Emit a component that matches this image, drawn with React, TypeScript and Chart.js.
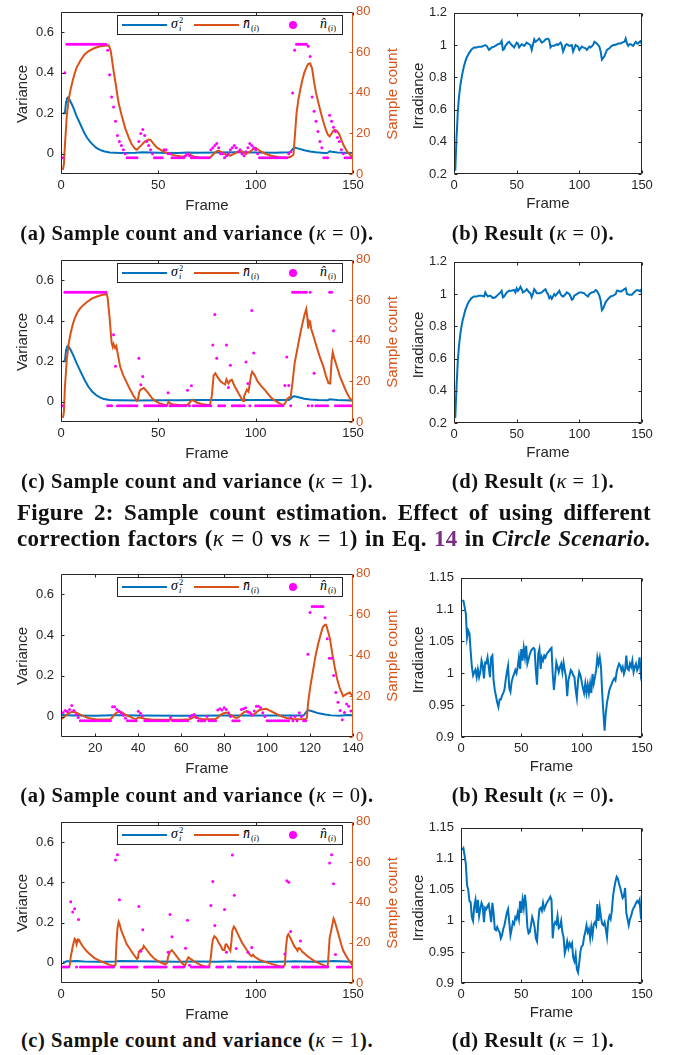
import React, { useEffect, useRef } from "react";
import { Chart, registerables } from "chart.js";
Chart.register(...registerables);

const BLUE = "#0072BD";
const ORANGE = "#D95319";
const MAGENTA = "#FF00FF";
const AXIS = "#262626";

// ---------- tick values ----------
const xTicksMain = [0, 50, 100, 150];
const xTicksRow3 = [20, 40, 60, 80, 100, 120, 140];
const varTicks = [0, 0.2, 0.4, 0.6];
const countTicks = [0, 20, 40, 60, 80];
const irrTicksA = [0.2, 0.4, 0.6, 0.8, 1, 1.2];
const irrTicksB = [0.9, 0.95, 1, 1.05, 1.1, 1.15];

// ---------- Figure 2 (a): kappa = 0, circle ----------
const dotsA1 = [
  8, 50, 64, 64, 64, 64, 64, 64, 64, 64,
  64, 64, 64, 64, 64, 64, 64, 64, 64, 64,
  64, 64, 64, 61, 49, 38, 33, 26, 19, 16,
  14, 12, 10, 8, 8, 8, 8, 8, 8, 16,
  20, 22, 19, 16, 14, 12, 10, 8, 8, 8,
  8, 8, 12, 12, 10, 10, 8, 8, 8, 8,
  8, 8, 8, 9, 10, 9, 8, 8, 8, 8,
  8, 8, 8, 8, 8, 8, 12, 13, 14, 15,
  13, 10, 10, 8, 9, 10, 12, 13, 14, 13,
  11, 12, 10, 9, 11, 13, 15, 14, 13, 12,
  10, 8, 8, 8, 8, 8, 8, 8, 8, 8,
  8, 8, 8, 8, 8, 8, 10, 11, 40, 61,
  64, 64, 64, 64, 64, 64, 63, 58, 38, 31,
  26, 21, 16, 13, 8, 8, 8, 29, 26, 23,
  21, 18, 16, 12, 10, 8, 8, 8, 8, 8,
];
const meanA1: [number, number][] = [
  [1, 2], [1.5, 5], [2, 14], [3, 29], [4, 37], [5, 42], [6, 46], [7, 49.5], [8, 52.5], [10, 56], [12, 58.8],
  [14, 60.5], [17, 62], [20, 63], [24.5, 63.5], [25.5, 61], [27, 51], [28, 45], [29.6, 35], [31, 29.5],
  [33, 22.5], [35, 17.5], [36.4, 14.5], [38, 12.5], [39, 12], [40, 13], [41.6, 14.5], [43, 16], [45, 17],
  [46, 16.8], [47.5, 15], [49.3, 13], [51, 12], [52.7, 11], [55, 10.2], [57.8, 9.3], [61, 8.8], [63.8, 8.6],
  [65, 10], [66.5, 9.5], [68, 8.6], [71.5, 8], [76.6, 8], [78, 9.5], [80, 11.3], [81, 11.5], [83, 10.5],
  [85, 9.5], [87, 9], [89, 10], [91, 11], [93, 11.2], [94, 10.5], [95, 9.8], [97, 11], [99, 12.5], [100, 13],
  [102, 11.5], [105, 10], [108, 9], [112, 8.3], [116, 8], [118, 8.5], [119.4, 9.5], [120, 17], [121, 30],
  [122, 37], [123, 42], [124, 46.5], [125, 50], [126, 52.5], [127, 54.3], [128, 54.5], [129, 52], [130, 45.5],
  [131, 40], [132, 36], [133, 32], [134, 28.5], [135, 25], [136, 22], [137, 19.5], [138, 18.5], [139, 20],
  [140, 21.5], [141, 21.7], [142, 21], [143, 19.5], [144, 17], [145, 14.5], [147, 11], [150, 8],
];
const varA1: [number, number][] = [
  [1, 0.2], [2, 0.2], [2.6, 0.255], [3, 0.272], [3.6, 0.278], [4.5, 0.265], [5.5, 0.245], [6.5, 0.224],
  [8, 0.185], [10, 0.144], [12, 0.102], [13.3, 0.08], [15, 0.058], [16.8, 0.04], [18, 0.03], [20, 0.019],
  [22, 0.012], [25, 0.006], [30, 0.004], [38, 0.005], [42, 0.007], [46, 0.006], [50, 0.005], [60, 0.004],
  [65, 0.006], [70, 0.005], [80, 0.006], [90, 0.007], [100, 0.006], [110, 0.005], [117, 0.007], [118, 0.009],
  [119, 0.024], [120, 0.03], [122, 0.025], [125, 0.017], [128, 0.011], [131, 0.007], [135, 0.004],
  [137, 0.005], [138, 0.012], [139, 0.01], [142, 0.006], [150, 0.004],
];
const irrB1: [number, number][] = [
  [1, 0.22], [2, 0.42], [3, 0.58], [4, 0.68], [5, 0.745], [6, 0.795], [7, 0.835], [8, 0.87], [9, 0.897],
  [10, 0.92], [11, 0.935], [12, 0.95], [14, 0.973], [16, 0.985], [18, 0.985], [20, 0.99], [22, 0.99],
  [25, 1.0], [26, 0.995], [28, 0.97], [30, 0.985], [32, 0.99], [34, 1.0], [35, 1.005], [37, 1.01],
  [38, 1.025], [39, 0.97], [40, 0.975], [41, 0.995], [43, 1.015], [44, 1.02], [46, 1.0], [48, 0.985],
  [50, 1.015], [51, 1.01], [52, 0.985], [54, 1.005], [56, 0.995], [58, 1.015], [60, 1.005], [61, 1.0],
  [62, 0.97], [64, 1.035], [65, 1.02], [66, 1.025], [68, 1.04], [70, 1.015], [72, 1.025], [73, 1.035],
  [75, 1.04], [76, 1.03], [77, 0.985], [78, 0.995], [80, 0.995], [82, 1.005], [83, 1.0], [85, 1.015],
  [86, 1.0], [87, 0.96], [88, 0.98], [89, 1.0], [90, 1.005], [92, 0.995], [94, 1.0], [95, 0.96],
  [96, 0.98], [97, 1.0], [99, 0.99], [100, 0.97], [102, 0.99], [103, 0.985], [105, 0.98], [106, 0.97],
  [108, 0.99], [109, 0.985], [111, 1.0], [112, 1.02], [113, 1.015], [114, 1.01], [116, 0.99], [117, 0.96],
  [118, 0.91], [119, 0.92], [120, 0.93], [122, 0.97], [124, 0.98], [125, 0.99], [127, 1.0], [128, 1.0],
  [130, 1.005], [131, 1.01], [133, 1.01], [134, 1.015], [136, 1.02], [137, 1.04], [138, 1.01],
  [139, 0.995], [140, 1.005], [141, 1.005], [142, 1.0], [143, 0.995], [144, 1.01], [145, 1.02],
  [146, 1.01], [147, 1.01], [148, 1.02], [149, 1.025], [150, 1.0],
];

// ---------- Figure 2 (c): kappa = 1, circle ----------
const dotsC1 = [
  8, 64, 64, 64, 64, 64, 64, 64, 64, 64,
  64, 64, 64, 64, 64, 64, 64, 64, 64, 64,
  64, 64, 64, 8, 8, 8, 43, 27.5, 8, 8,
  8, 8, 8, 8, 8, 8, 8, 8, 8, 31.5,
  18.4, 22.4, 8, 8, 8, 8, 8, 8, 8, 8,
  8, 8, 8, 8, 14.4, 8, 8, 8, 8, 8,
  8, 8, 8, 8, 15.7, 8, 17.9, 8, 8, 8,
  8, 8, 8, 8, 8, 8, 8, 38, 53, 31.5,
  8, 8, 8, 8, 38, 17, 28, 8, 8, 8,
  8, 8, 8, 8, 29.6, 19, 8, 55, 34, 8,
  8, 8, 8, 8, 8, 8, 8, 8, 8, 8,
  8, 8, 8, 8, 18, 32, 18, 8, 64, 64,
  64, 64, 64, 64, 64, 64, 8, 64, 8, 24,
  8, 8, 8, 8, 8, 8, 8, 64, 64, 45,
  8, 8, 8, 8, 8, 8, 8, 8, 8, 8,
];
const meanC1: [number, number][] = [
  [1, 2], [1.5, 5], [2, 17], [3, 31], [4, 39], [5, 44], [6, 48], [7, 51], [8.2, 53.6], [10, 56.3],
  [13.3, 59.2], [16, 61], [20, 62.4], [23.5, 63.2], [24, 61], [25, 51], [26, 39], [26.6, 37], [27, 38.5],
  [27.8, 36.5], [28.4, 37.5], [30.4, 27.2], [32, 23], [33.9, 19.2], [35.5, 16], [37.3, 12.8], [39, 10.4],
  [39.5, 11], [40.3, 15.2], [41, 16], [42.5, 16.8], [43.5, 15.8], [45, 14], [46.5, 12], [48.5, 10.3],
  [50.5, 9.3], [53, 8.5], [54.5, 8.3], [55.2, 9.9], [56.5, 9], [58, 8.6], [62, 8.3], [65, 8.5], [66.5, 10],
  [67.3, 11], [68.5, 10.3], [70, 9.5], [73, 8.7], [76.5, 8.3], [77.5, 13], [78.4, 23], [79.3, 24],
  [80.5, 22], [82, 20], [83.5, 19], [84.3, 18.5], [85, 21], [86, 19], [87, 20.5], [87.8, 20.8], [89, 18],
  [91, 14.5], [92.5, 12], [93.5, 10.4], [94, 12.5], [95.5, 16], [96.3, 15], [97, 19], [97.6, 23],
  [98.2, 24.8], [99.5, 23], [101, 20], [103, 17.6], [105, 15.5], [106.5, 13.6], [108, 12], [110, 10.5],
  [112, 9.3], [114, 8.3], [115, 9], [116, 11.2], [117, 12], [118, 12.5], [119, 20], [120, 29], [121, 34],
  [122, 39], [123, 44], [124, 48.5], [125, 52.5], [126, 55.7], [126.5, 52], [127, 46], [127.5, 50],
  [128, 49.6], [128.5, 46], [129.5, 43], [131.4, 36.8], [133, 32], [134.8, 27.2], [136, 23], [137.4, 19.2],
  [138.3, 19], [139, 30], [139.6, 34.4], [140.5, 31], [142, 26.5], [143.3, 22.4], [145, 18.5], [146.8, 14.4],
  [148.5, 11.5], [150, 10],
];
const varC1: [number, number][] = [
  [1, 0.2], [2, 0.2], [2.6, 0.255], [3, 0.27], [3.6, 0.276], [5, 0.255], [6.5, 0.225], [8, 0.19],
  [10, 0.15], [12, 0.11], [14, 0.075], [16, 0.05], [18, 0.033], [20, 0.021], [22, 0.013], [25, 0.008],
  [30, 0.007], [40, 0.006], [50, 0.007], [60, 0.007], [70, 0.008], [80, 0.008], [90, 0.009], [100, 0.008],
  [110, 0.008], [117, 0.008], [118, 0.015], [119, 0.025], [120, 0.027], [122, 0.022], [125, 0.015],
  [128, 0.011], [132, 0.008], [137, 0.007], [138, 0.012], [139, 0.011], [142, 0.008], [150, 0.006],
];
const irrD1: [number, number][] = [
  [1, 0.23], [2, 0.42], [3, 0.58], [4, 0.68], [5, 0.75], [6, 0.8], [7, 0.84], [8, 0.87], [9, 0.9],
  [10, 0.92], [11, 0.94], [12, 0.955], [14, 0.975], [16, 0.985], [18, 0.985], [20, 0.99], [22, 0.99],
  [24, 0.985], [25, 1.01], [26, 0.995], [27, 0.985], [29, 0.99], [31, 0.975], [33, 0.98], [35, 0.995],
  [37, 1.01], [38, 1.02], [39, 0.98], [40, 0.985], [42, 1.01], [44, 1.02], [46, 1.02], [48, 1.025],
  [49, 1.01], [50, 1.035], [51, 1.02], [52, 1.03], [53, 1.045], [54, 1.03], [55, 1.01], [57, 1.02],
  [58, 1.03], [60, 1.01], [61, 1.005], [62, 0.98], [63, 1.0], [64, 1.03], [65, 1.02], [66, 1.005],
  [68, 1.005], [70, 1.01], [72, 1.025], [73, 1.03], [74, 1.01], [75, 1.0], [76, 0.975], [77, 0.985],
  [78, 0.97], [80, 1.0], [81, 0.99], [82, 1.0], [84, 1.02], [85, 1.0], [86, 0.99], [87, 0.985],
  [88, 0.99], [90, 1.01], [92, 1.0], [93, 0.985], [94, 0.965], [95, 0.97], [96, 0.99], [98, 1.0],
  [100, 1.01], [102, 1.01], [104, 1.005], [105, 0.995], [107, 0.985], [108, 1.0], [110, 1.01],
  [112, 1.015], [113, 1.025], [114, 1.02], [116, 0.99], [117, 0.96], [118, 0.9], [119, 0.91], [121, 0.95],
  [123, 0.97], [125, 0.985], [127, 0.99], [129, 1.0], [130, 1.02], [131, 1.02], [133, 1.015], [134, 1.02],
  [136, 1.03], [137, 1.035], [138, 1.0], [140, 0.995], [142, 0.995], [143, 1.005], [145, 1.02],
  [146, 1.025], [148, 1.02], [149, 1.025], [150, 1.0],
];

// ---------- Figure 3 (a): kappa = 0, second scenario ----------
const dotsA2Start = 5;
const dotsA2 = [
  12, 13, 12.5, 13.5, 15.5, 13, 11, 9.5, 8, 8,
  8, 8, 8, 8, 8, 8, 8, 8, 8, 8,
  8, 8, 8, 14.8, 14.8, 13.5, 12.7, 11.9, 10.7, 9.2,
  8, 8, 8, 8, 8, 12.6, 11.6, 10.3, 8, 8,
  8, 8, 8, 8, 8, 8, 8, 8, 8, 8,
  9.5, 8, 8, 8, 8, 8, 8, 8, 8, 9.9,
  10.7, 11, 9.5, 8, 8, 8, 8, 10, 8, 8,
  8, 8, 13.2, 13.8, 13.2, 14.3, 13.5, 11.9, 10, 8,
  8, 8, 8, 13.5, 13.8, 14.3, 12.2, 11.9, 10.7, 12.7,
  15.1, 15.1, 14.3, 11.9, 10, 8, 8, 8, 8, 8,
  8, 8, 8, 8, 8, 8, 9.5, 8, 10, 8,
  11.9, 10, 8, 8, 40.6, 61, 64, 64, 64, 64,
  64, 64, 58.4, 48.2, 38.6, 38.6, 30.2, 21.8, 17, 13,
  8.4, 12, 16.2, 15.1, 12.7, 18.6,
];
const meanA2: [number, number][] = [
  [4, 8.7], [5, 9.5], [6, 10.3], [7, 11.2], [8, 11.9], [9, 12.3], [10, 12.4], [11, 12], [13, 11], [15, 10],
  [17, 9.2], [20, 8.7], [27, 8.6], [28, 9.8], [29, 11.2], [30, 12], [31, 12.5], [32, 12.3], [34, 11],
  [36, 10], [38, 9], [39, 8.8], [40, 9.5], [41, 9.4], [43, 8.9], [46, 8.6], [50, 8.5], [55, 8.5], [60, 8.5],
  [64, 8.7], [65, 9.3], [66.5, 10], [68, 9.2], [70, 8.7], [76, 8.8], [77, 9.5], [78, 10.6], [79.5, 11.5],
  [81, 12], [82, 11.6], [83, 10.8], [85, 9.5], [86, 9.3], [87, 10], [88, 11], [89, 12], [90.5, 12.7],
  [91.5, 12.3], [93, 11], [93.6, 10.8], [95, 12], [96, 13], [97, 13.4], [98, 13.6], [99.7, 13.8], [101, 13],
  [103, 12], [105, 11], [107, 10], [109, 9.3], [112, 8.8], [118, 8.7], [118.5, 9.5], [119.1, 16.7],
  [120, 24], [121.4, 32.6], [122.5, 39.5], [123.7, 45.3], [125, 50.5], [126, 54], [127, 55], [127.5, 55],
  [129.2, 48.5], [130.5, 40], [131.5, 34.2], [132.7, 28], [133.8, 24], [135.4, 20], [136.5, 20.8],
  [138.4, 21.8], [139.5, 20.5], [140, 19.9],
];
const varA2: [number, number][] = [
  [4, 0.008], [10, 0.006], [20, 0.004], [28, 0.007], [32, 0.007], [40, 0.005], [60, 0.004], [80, 0.006],
  [100, 0.005], [117, 0.005], [118, 0.02], [119, 0.032], [121, 0.026], [124, 0.016], [127, 0.01],
  [130, 0.006], [134, 0.004], [137, 0.008], [140, 0.006],
];
const irrB2 = [
  1.114, 1.114, 1.104, 1.094, 1.056, 1.067, 1.063, 1.035, 1.01, 0.997,
  1.002, 1.006, 0.994, 1.006, 0.994, 1.002, 1.02, 1.012, 0.992, 1.017,
  1.016, 1.025, 1.01, 0.994, 1.025, 1.028, 0.989, 0.974, 0.964, 0.954,
  0.947, 0.959, 0.959, 0.965, 0.969, 0.974, 0.989, 1.002, 1.012, 0.977,
  0.971, 0.987, 0.994, 0.999, 1.005, 1.0, 1.01, 1.025, 1.007, 1.038,
  1.02, 1.04, 1.025, 1.043, 1.015, 1.022, 1.03, 1.035, 1.038, 1.04,
  1.038, 1.005, 0.982, 1.03, 1.038, 1.007, 1.025, 1.02, 1.028, 1.025,
  1.03, 1.033, 1.035, 1.038, 1.04, 0.999, 0.974, 0.994, 1.017, 1.01,
  1.002, 1.01, 1.015, 1.002, 1.017, 1.005, 0.994, 0.964, 0.989, 0.997,
  1.005, 1.002, 0.997, 0.994, 0.974, 0.961, 0.989, 1.002, 0.997, 0.987,
  0.977, 0.969, 0.984, 0.969, 0.982, 0.969, 0.984, 0.969, 0.999, 0.984,
  0.994, 1.005, 1.025, 1.015, 1.025, 1.01, 0.969, 0.938, 0.91, 0.938,
  0.954, 0.964, 0.974, 0.979, 0.984, 0.989, 0.992, 0.989, 1.002, 1.01,
  1.015, 1.012, 1.005, 1.01, 0.999, 1.005, 1.028, 1.007, 1.005, 1.015,
  1.01, 1.02, 1.002, 1.01, 1.015, 1.005, 1.01, 1.025, 0.999, 1.01,
];

// ---------- Figure 3 (c): kappa = 1, second scenario ----------
const dotsC2 = [
  8, 8, 8, 8, 40.3, 35.2, 36.8, 8, 31.5, 8,
  8, 8, 8, 8, 8, 8, 8, 8, 8, 8,
  8, 8, 8, 8, 8, 8, 8, 61, 63.7, 41.3,
  8, 8, 8, 8, 8, 8, 8, 8, 8, 38,
  15.7, 26.4, 8, 8, 8, 8, 8, 8, 8, 8,
  8, 8, 8, 8, 15.2, 34, 22.9, 8, 8, 8,
  8, 8, 8, 17.3, 31.2, 8.8, 8, 8, 8, 8,
  8, 8, 8, 8, 8, 8, 38.4, 50.4, 28.5, 8,
  8, 8, 8, 36.5, 15.2, 8, 8, 63.5, 43.5, 17.1,
  8, 8, 8, 8, 8, 15.2, 8, 17.6, 8, 8,
  8, 8, 8, 8, 8, 8, 8, 8, 8, 8,
  8, 8, 8, 8, 14.4, 50.7, 50, 25.6, 8, 8,
  8, 8, 20.8, 8, 8, 8, 8, 8, 8, 8,
  8, 8, 8, 8, 8, 8, 8, 59.5, 63.7, 49.3,
  14.1, 8, 8, 8, 8, 8, 8, 8, 8, 8,
];
const meanC2: [number, number][] = [
  [1, 8], [4, 8], [4.5, 9], [5, 13], [6, 18], [7, 22], [7.5, 21.5], [8, 19.2], [8.7, 21.6], [9.2, 21.5],
  [10, 20], [12, 17], [14, 15], [17, 12.5], [20, 11], [23, 9.8], [25, 9], [27, 8.5], [28, 9], [28.5, 20],
  [29, 27], [29.6, 30.4], [30, 29.5], [31, 26], [33.8, 19.2], [35, 17.5], [37, 14.5], [39, 12], [39.5, 12.3],
  [40, 15.5], [41, 16.5], [42, 17], [42.5, 18.4], [44, 16.5], [46, 14], [48, 12], [51, 10.3], [53.5, 9.3],
  [54.5, 10], [55, 13], [56, 15.5], [57, 16.3], [58, 15], [60, 12.5], [62, 10], [63.7, 8.5], [64.5, 11],
  [65.4, 12.8], [66.5, 12], [68, 11], [70, 9.8], [72, 8.8], [74.8, 8], [76.2, 8.5], [77, 13], [77.5, 18],
  [78, 21.6], [78.8, 23.2], [80, 22], [81, 20], [82, 18.5], [83, 16.5], [84, 16.3], [84.5, 19], [85, 19.2],
  [86, 17.6], [87, 16], [87.5, 20], [88, 26], [88.8, 28], [89.5, 27], [91, 24], [93, 20], [95, 17],
  [97, 14], [98, 13.3], [98.7, 14], [99.5, 13], [102, 11.5], [105, 10.5], [108, 9.5], [111, 8.7], [114, 8],
  [115, 9], [115.5, 17], [116.2, 23.2], [116.8, 24.3], [117.5, 23], [119, 20], [120, 18], [121, 16.8],
  [121.5, 16], [122, 17.3], [122.7, 17.2], [124, 15.5], [127, 13], [130, 11], [133, 9.6], [136.3, 8.2],
  [137, 8.5], [137.5, 15], [138, 22.4], [139, 27], [140, 32], [140.5, 31], [142, 26], [144, 19],
  [145, 16], [147, 12.5], [150, 8.5],
];
const varC2: [number, number][] = [
  [1, 0.003], [2, 0.004], [3, 0.008], [5, 0.008], [8, 0.009], [12, 0.007], [20, 0.006], [28, 0.007],
  [30, 0.009], [40, 0.008], [50, 0.007], [60, 0.006], [70, 0.007], [80, 0.006], [88, 0.008], [90, 0.007],
  [100, 0.006], [110, 0.006], [117, 0.007], [120, 0.008], [130, 0.006], [138, 0.008], [140, 0.009],
  [150, 0.005],
];
const irrD2 = [
  1.114, 1.117, 1.105, 1.092, 1.058, 1.05, 1.032, 1.03, 1.006, 1.0,
  1.024, 1.034, 1.013, 1.034, 1.008, 1.019, 1.029, 1.024, 0.998, 1.021,
  1.019, 1.024, 1.027, 1.013, 0.998, 1.029, 1.013, 0.987, 0.985, 0.99,
  0.985, 0.982, 0.972, 0.977, 0.987, 0.993, 1.003, 1.013, 1.019, 0.998,
  0.977, 0.987, 0.998, 0.995, 1.006, 1.003, 1.013, 1.003, 1.032, 1.013,
  1.034, 1.021, 1.042, 1.024, 0.99, 0.98, 0.982, 0.993, 1.006, 1.0,
  0.99, 0.972, 0.967, 0.998, 1.019, 1.021, 1.016, 1.029, 1.019, 1.024,
  1.029, 1.032, 1.035, 1.039, 1.034, 0.972, 0.993, 0.998, 0.995, 1.008,
  0.988, 0.99, 1.0, 0.982, 0.974, 0.948, 0.956, 0.967, 0.956, 0.964,
  0.959, 0.964, 0.941, 0.935, 0.946, 0.922, 0.917, 0.933, 0.951, 0.959,
  0.961, 0.974, 0.982, 0.993, 0.982, 0.987, 0.972, 0.99, 0.977, 0.995,
  0.998, 0.993, 1.027, 1.0, 1.021, 1.006, 0.995, 0.993, 0.998, 0.987,
  0.974, 1.0, 1.008, 1.003, 1.016, 1.04, 1.053, 1.063, 1.071, 1.068,
  1.06, 1.053, 1.045, 1.037, 1.04, 1.053, 1.013, 1.003, 0.993, 1.003,
  1.008, 1.016, 1.021, 1.024, 1.029, 1.032, 1.029, 1.034, 1.008, 1.013,
];

// ---------- helpers ----------
const TICK_FONT = { family: "'Liberation Sans', Arial, sans-serif", size: 13 };
const fmt = (v: any) => String(+Number(v).toFixed(3));
const PAD_T = 10;
const PAD_B = 26;

type Rect = { x: number; y: number; w: number; h: number };

const boxPlugin = {
  id: "matlabBox",
  afterDatasetsDraw(chart: any, _args: any, opts: any) {
    const { ctx, chartArea } = chart;
    const { left, right, top, bottom } = chartArea;
    const TL = 3;
    const p = (v: number) => Math.round(v) + 0.5;
    const L = p(left), R = p(right - 1), T = p(top), B = p(bottom - 1);
    const seg = (x1: number, y1: number, x2: number, y2: number, c: string) => {
      ctx.strokeStyle = c;
      ctx.beginPath();
      ctx.moveTo(x1, y1);
      ctx.lineTo(x2, y2);
      ctx.stroke();
    };
    ctx.save();
    ctx.lineWidth = 1;
    const xs = chart.scales.x;
    xs.ticks.forEach((t: any) => {
      const x = p(xs.getPixelForValue(t.value));
      seg(x, B, x, B - TL, AXIS);
      seg(x, T, x, T + TL, AXIS);
    });
    const ys = chart.scales.y;
    ys.ticks.forEach((t: any) => {
      const y = p(ys.getPixelForValue(t.value));
      seg(L, y, L + TL, y, AXIS);
      if (!opts.dual) seg(R, y, R - TL, y, AXIS);
    });
    if (opts.dual) {
      const y2 = chart.scales.y2;
      y2.ticks.forEach((t: any) => {
        const y = p(y2.getPixelForValue(t.value));
        seg(R, y, R - TL, y, ORANGE);
      });
    }
    seg(L, T, R, T, AXIS);
    seg(L, B, R, B, AXIS);
    seg(L, T, L, B, AXIS);
    seg(R, T, R, B, opts.dual ? ORANGE : AXIS);
    ctx.restore();
  },
};

function linAxis(min: number, max: number, ticks: number[], fit: (s: any) => void, color: string, padding: number, position?: string) {
  return {
    type: "linear",
    position,
    min,
    max,
    afterBuildTicks: (a: any) => {
      a.ticks = ticks.map((v) => ({ value: v }));
    },
    afterFit: fit,
    grid: { display: false, drawTicks: false },
    border: { display: false },
    ticks: { font: TICK_FONT, color, padding, autoSkip: false, maxRotation: 0, minRotation: 0, callback: fmt },
  };
}

function dualConfig(p: {
  padL: number; padR: number; xMin: number; xMax: number; xTicks: number[];
  variance: [number, number][]; mean: [number, number][]; dots: number[]; dotStart: number;
}) {
  return {
    type: "line",
    data: {
      datasets: [
        {
          label: "n_hat",
          data: p.dots.map((v, i) => ({ x: i + p.dotStart, y: v })),
          yAxisID: "y2",
          showLine: false,
          pointRadius: 1.5,
          pointBackgroundColor: MAGENTA,
          pointBorderWidth: 0,
          order: 0,
        },
        {
          label: "n_bar",
          data: p.mean.map(([x, y]) => ({ x, y })),
          yAxisID: "y2",
          borderColor: ORANGE,
          borderWidth: 2,
          pointRadius: 0,
          order: 1,
        },
        {
          label: "sigma",
          data: p.variance.map(([x, y]) => ({ x, y })),
          yAxisID: "y",
          borderColor: BLUE,
          borderWidth: 2,
          pointRadius: 0,
          order: 2,
        },
      ],
    },
    options: {
      responsive: false,
      animation: false,
      devicePixelRatio: 1,
      events: [],
      layout: { padding: { top: PAD_T, left: 0, right: 0, bottom: 0 } },
      plugins: { legend: { display: false }, tooltip: { enabled: false }, matlabBox: { dual: true } },
      scales: {
        x: linAxis(p.xMin, p.xMax, p.xTicks, (s) => { s.height = PAD_B; }, AXIS, 4),
        y: linAxis(-0.1, 0.7, varTicks, (s) => { s.width = p.padL; }, AXIS, 7, "left"),
        y2: linAxis(0, 80, countTicks, (s) => { s.width = p.padR; }, ORANGE, 3, "right"),
      },
    },
    plugins: [boxPlugin],
  };
}

function irrConfig(p: {
  padL: number; padR: number; yMin: number; yMax: number; yTicks: number[]; points: { x: number; y: number }[];
}) {
  return {
    type: "line",
    data: {
      datasets: [
        { label: "irradiance", data: p.points, borderColor: BLUE, borderWidth: 2, pointRadius: 0 },
      ],
    },
    options: {
      responsive: false,
      animation: false,
      devicePixelRatio: 1,
      events: [],
      layout: { padding: { top: PAD_T, left: 0, right: p.padR, bottom: 0 } },
      plugins: { legend: { display: false }, tooltip: { enabled: false }, matlabBox: { dual: false } },
      scales: {
        x: linAxis(0, 150, xTicksMain, (s) => { s.height = PAD_B; }, AXIS, 4),
        y: linAxis(p.yMin, p.yMax, p.yTicks, (s) => { s.width = p.padL; }, AXIS, 7, "left"),
      },
    },
    plugins: [boxPlugin],
  };
}

function ChartCanvas({ left, width, rect, config }: { left: number; width: number; rect: Rect; config: any }) {
  const ref = useRef<HTMLCanvasElement>(null);
  const top = rect.y - PAD_T;
  const height = rect.h + PAD_T + PAD_B;
  useEffect(() => {
    const chart = new Chart(ref.current as HTMLCanvasElement, config);
    return () => chart.destroy();
  }, []);
  return (
    <canvas
      ref={ref}
      width={width}
      height={height}
      style={{ position: "absolute", left, top, width, height }}
    />
  );
}

const sansTitle: React.CSSProperties = {
  position: "absolute",
  fontFamily: "'Liberation Sans', Arial, sans-serif",
  fontSize: 15,
  color: AXIS,
  whiteSpace: "nowrap",
  lineHeight: "16px",
};

function Label({ cx, cy, text, rotate, color }: { cx: number; cy: number; text: string; rotate?: boolean; color?: string }) {
  return (
    <div
      style={{
        ...sansTitle,
        left: cx,
        top: cy,
        color: color || AXIS,
        transform: `translate(-50%, -50%)${rotate ? " rotate(-90deg)" : ""}`,
      }}
    >
      {text}
    </div>
  );
}

const mathFont: React.CSSProperties = { fontFamily: "'Liberation Serif', 'DejaVu Serif', serif", fontStyle: "italic", color: "#000" };

function SubSup({ sup, sub }: { sup?: string; sub: React.ReactNode }) {
  return (
    <span style={{ position: "relative", display: "inline-block", width: sup ? 6 : 13, height: 10 }}>
      {sup ? (
        <span style={{ position: "absolute", left: 1, top: -2, fontSize: 8.5, lineHeight: "8.5px", fontStyle: "normal" }}>{sup}</span>
      ) : null}
      <span style={{ position: "absolute", left: 1, top: 6, fontSize: 8.5, lineHeight: "8.5px", whiteSpace: "nowrap" }}>{sub}</span>
    </span>
  );
}

function Legend({ left, top }: { left: number; top: number }) {
  const txt: React.CSSProperties = { position: "absolute", top: -1, fontSize: 14, lineHeight: "18px", ...mathFont, whiteSpace: "nowrap" };
  const paren = <><span style={{ fontStyle: "normal" }}>(</span>i<span style={{ fontStyle: "normal" }}>)</span></>;
  return (
    <div
      style={{
        position: "absolute",
        left,
        top,
        width: 226,
        height: 20,
        border: `1px solid ${AXIS}`,
        background: "#fff",
        boxSizing: "border-box",
      }}
    >
      <div style={{ position: "absolute", left: 4, top: 8, width: 45, height: 2, background: BLUE }} />
      <span style={{ ...txt, left: 53 }}>
        σ<SubSup sup="2" sub="i" />
      </span>
      <div style={{ position: "absolute", left: 76, top: 8, width: 45, height: 2, background: ORANGE }} />
      <span style={{ ...txt, left: 125 }}>
        {"n\u0304"}<SubSup sub={paren} />
      </span>
      <div style={{ position: "absolute", left: 171, top: 5, width: 8, height: 8, borderRadius: 4, background: MAGENTA }} />
      <span style={{ ...txt, left: 202 }}>
        {"n\u0302"}<SubSup sub={paren} />
      </span>
    </div>
  );
}

const capStyle: React.CSSProperties = {
  position: "absolute",
  fontFamily: "'Liberation Serif', 'Times New Roman', serif",
  fontWeight: 700,
  fontSize: 20.5,
  letterSpacing: "0.55px",
  lineHeight: "20.5px",
  color: "#111",
  whiteSpace: "nowrap",
  transform: "translateX(-50%)",
};

function Kappa({ v }: { v: string }) {
  return (
    <span style={{ fontWeight: 400 }}>
      <i>κ</i> = {v}
    </span>
  );
}

function Caption({ cx, top, label, text, k }: { cx: number; top: number; label: string; text: string; k: string }) {
  return (
    <div style={{ ...capStyle, left: cx, top }}>
      {label} {text} (<Kappa v={k} />).
    </div>
  );
}

const rects: Record<string, Rect> = {
  L1: { x: 61, y: 7, w: 292, h: 167 },
  R1: { x: 454, y: 8, w: 188, h: 166 },
  L2: { x: 61, y: 255, w: 292, h: 167 },
  R2: { x: 454, y: 257, w: 188, h: 166 },
  L3: { x: 61, y: 569, w: 292, h: 168 },
  R3: { x: 461, y: 573, w: 181, h: 164 },
  L4: { x: 61, y: 817, w: 292, h: 166 },
  R4: { x: 461, y: 823, w: 181, h: 160 },
};

const LW = 400; // left canvas width
const RL = 400; // right canvas left
const RW = 273;

function leftCfg(r: Rect, xMin: number, xMax: number, xTicks: number[], variance: [number, number][], mean: [number, number][], dots: number[], dotStart: number) {
  return dualConfig({ padL: r.x, padR: LW - (r.x + r.w), xMin, xMax, xTicks, variance, mean, dots, dotStart });
}
function rightCfg(r: Rect, yMin: number, yMax: number, yTicks: number[], points: { x: number; y: number }[]) {
  return irrConfig({ padL: r.x - RL, padR: RL + RW - (r.x + r.w), yMin, yMax, yTicks, points });
}

function Panel({ name, right }: { name: string; right?: boolean }) {
  const r = rects[name];
  if (!right) {
    return (
      <>
        <Label cx={22} cy={r.y + r.h / 2 + 3} text="Variance" rotate />
        <Label cx={207} cy={r.y + r.h + 31} text="Frame" />
        <Label cx={392} cy={r.y + r.h / 2 + 3} text="Sample count" rotate color={ORANGE} />
        <Legend left={117} top={r.y + 8} />
      </>
    );
  }
  return (
    <>
      <Label cx={418} cy={r.y + r.h / 2 + 5} text="Irradiance" rotate />
      <Label cx={r.x + r.w / 2} cy={r.y + r.h + 29} text="Frame" />
    </>
  );
}

export default function App() {
  const cfgL1 = leftCfg(rects.L1, 0, 150, xTicksMain, varA1, meanA1, dotsA1, 1);
  const cfgL2 = leftCfg(rects.L2, 0, 150, xTicksMain, varC1, meanC1, dotsC1, 1);
  const cfgL3 = leftCfg(rects.L3, 4, 140, xTicksRow3, varA2, meanA2, dotsA2, dotsA2Start);
  const cfgL4 = leftCfg(rects.L4, 0, 150, xTicksMain, varC2, meanC2, dotsC2, 1);
  const cfgR1 = rightCfg(rects.R1, 0.2, 1.2, irrTicksA, irrB1.map(([x, y]) => ({ x, y })));
  const cfgR2 = rightCfg(rects.R2, 0.2, 1.2, irrTicksA, irrD1.map(([x, y]) => ({ x, y })));
  const cfgR3 = rightCfg(rects.R3, 0.9, 1.15, irrTicksB, irrB2.map((y, i) => ({ x: i + 1, y })));
  const cfgR4 = rightCfg(rects.R4, 0.9, 1.15, irrTicksB, irrD2.map((y, i) => ({ x: i + 1, y })));

  return (
    <div style={{ position: "absolute", left: 0, top: 0, width: 673, height: 1055, background: "#fff", overflow: "hidden" }}>
      <ChartCanvas left={0} width={LW} rect={rects.L1} config={cfgL1} />
      <ChartCanvas left={RL} width={RW} rect={rects.R1} config={cfgR1} />
      <ChartCanvas left={0} width={LW} rect={rects.L2} config={cfgL2} />
      <ChartCanvas left={RL} width={RW} rect={rects.R2} config={cfgR2} />
      <ChartCanvas left={0} width={LW} rect={rects.L3} config={cfgL3} />
      <ChartCanvas left={RL} width={RW} rect={rects.R3} config={cfgR3} />
      <ChartCanvas left={0} width={LW} rect={rects.L4} config={cfgL4} />
      <ChartCanvas left={RL} width={RW} rect={rects.R4} config={cfgR4} />

      <Panel name="L1" />
      <Panel name="R1" right />
      <Panel name="L2" />
      <Panel name="R2" right />
      <Panel name="L3" />
      <Panel name="R3" right />
      <Panel name="L4" />
      <Panel name="R4" right />

      <Caption cx={197} top={223} label="(a)" text="Sample count and variance" k="0" />
      <div style={{ ...capStyle, left: 533, top: 223 }}>(b) Result (<Kappa v="0" />).</div>
      <Caption cx={197} top={471} label="(c)" text="Sample count and variance" k="1" />
      <div style={{ ...capStyle, left: 533, top: 471 }}>(d) Result (<Kappa v="1" />).</div>

      <div
        style={{
          position: "absolute",
          left: 17,
          top: 500,
          width: 634,
          fontFamily: "'Liberation Serif', 'Times New Roman', serif",
          fontWeight: 700,
          fontSize: 23,
          letterSpacing: "0.3px",
          lineHeight: "26px",
          color: "#111",
        }}
      >
        <div style={{ textAlign: "justify", textAlignLast: "justify" }}>
          Figure 2: Sample count estimation. Effect of using different
        </div>
        <div style={{ textAlign: "justify", textAlignLast: "justify" }}>
          correction factors (<Kappa v="0" /> vs <Kappa v="1" />) in Eq.{" "}
          <span style={{ color: "#7B2D86" }}>14</span> in <i>Circle Scenario.</i>
        </div>
      </div>

      <Caption cx={197} top={785} label="(a)" text="Sample count and variance" k="0" />
      <div style={{ ...capStyle, left: 533, top: 785 }}>(b) Result (<Kappa v="0" />).</div>
      <Caption cx={197} top={1030} label="(c)" text="Sample count and variance" k="1" />
      <div style={{ ...capStyle, left: 533, top: 1030 }}>(d) Result (<Kappa v="1" />).</div>
    </div>
  );
}
